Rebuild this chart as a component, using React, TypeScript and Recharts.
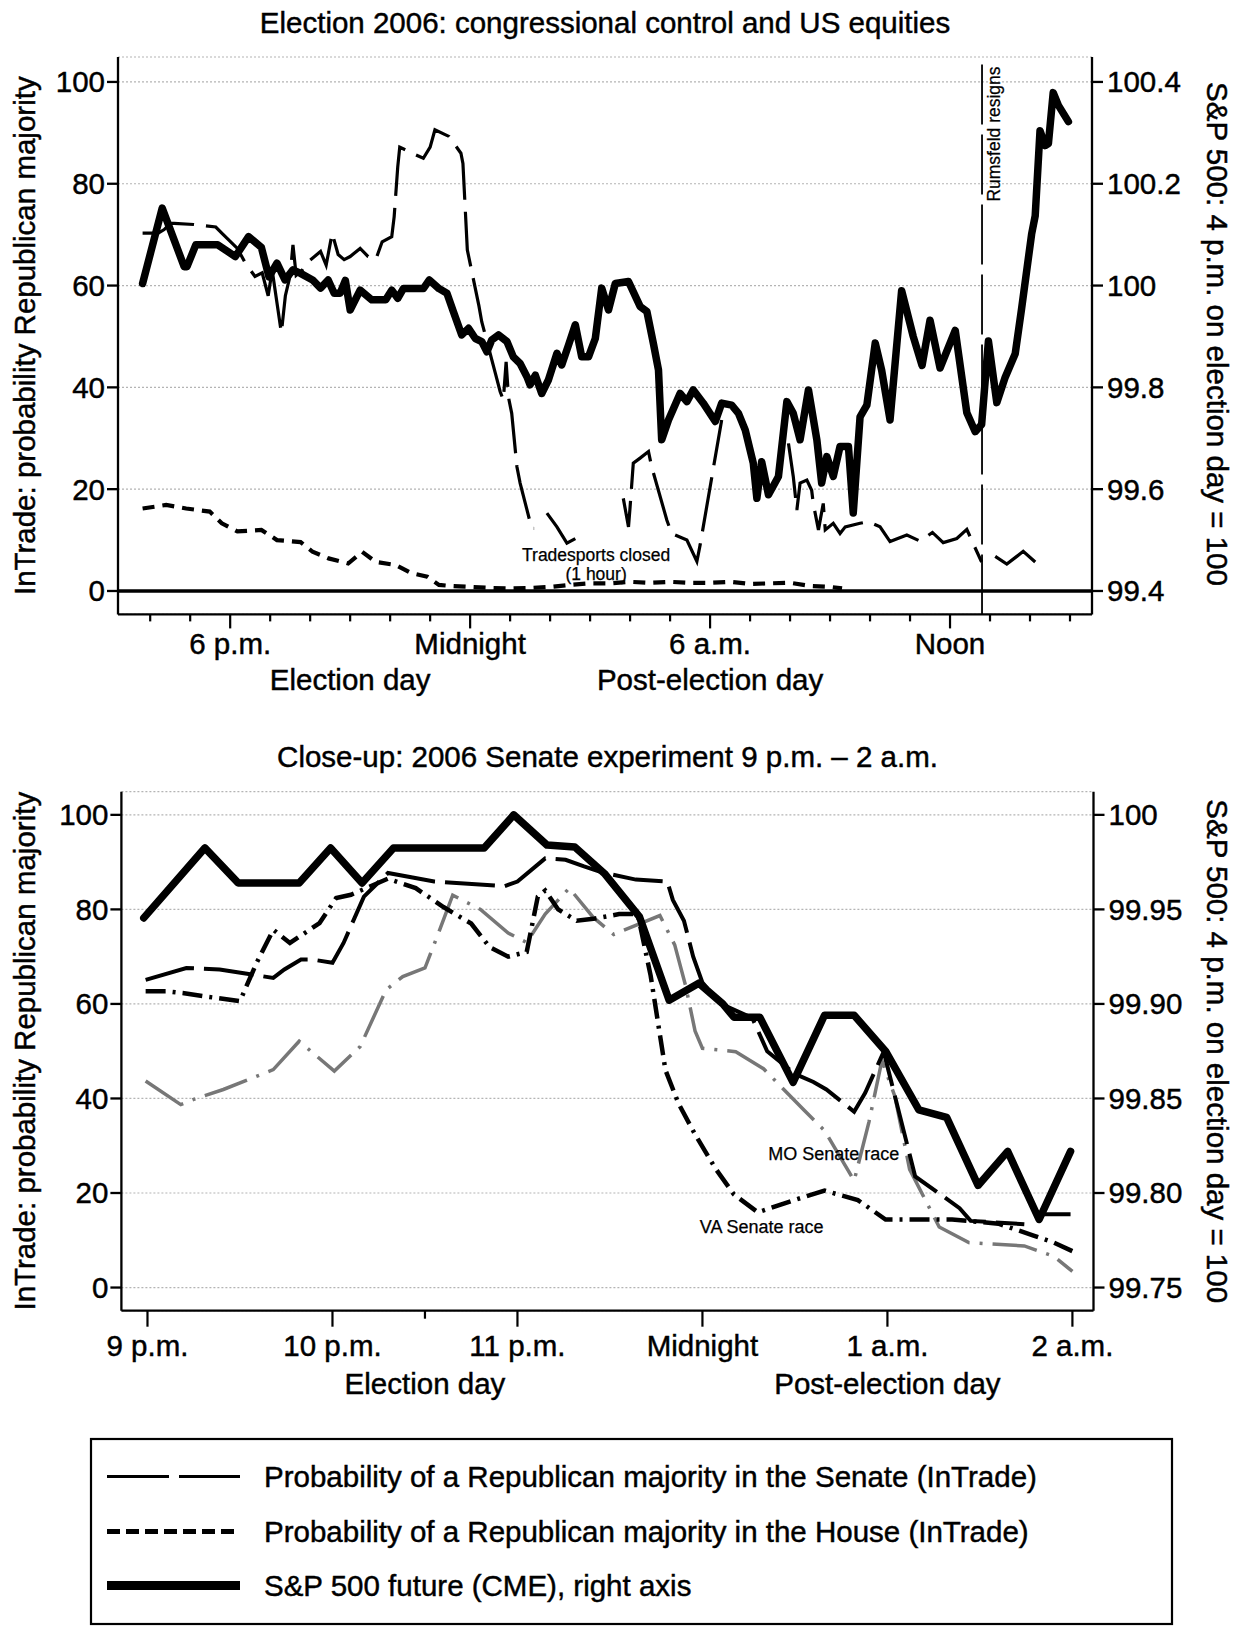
import React from 'react';
import { LineChart, Line, XAxis, YAxis, CartesianGrid, ReferenceLine, ReferenceDot } from 'recharts';

const FONT = "'Liberation Sans', Arial, Helvetica, sans-serif";
const TXT = 29.5;
const TXT_STROKE = 0.45;

// ---------- Full session: hours of the day, 24 = midnight, 36 = noon next day ----------
const sessionTickHours = [16, 17, 18, 19, 20, 21, 22, 23, 24, 25, 26, 27, 28, 29, 30, 31, 32, 33, 34, 35, 36, 37, 38, 39];
const sessionMajorHours = [18, 24, 30, 36];
const sessionMajorLabels = ['6 p.m.', 'Midnight', '6 a.m.', 'Noon'];
const sessionDayHours = [21, 30];
const sessionDayNames = ['Election day', 'Post-election day'];

// ---------- Close-up 9 p.m. - 2 a.m. ----------
const closeTickHours = [21, 22, 22.5, 23, 24, 25, 26];
const closeMajorHours = [21, 22, 23, 24, 25, 26];
const closeMajorLabels = ['9 p.m.', '10 p.m.', '11 p.m.', 'Midnight', '1 a.m.', '2 a.m.'];
const closeDayHours = [22.5, 25];
const closeDayNames = ['Election day', 'Post-election day'];

const probTicks = [0, 20, 40, 60, 80, 100];
const sessionSpTicks = [99.4, 99.6, 99.8, 100, 100.2, 100.4];
const sessionSpTickLabels = ['99.4', '99.6', '99.8', '100', '100.2', '100.4'];
const closeSpTicks = [99.75, 99.8, 99.85, 99.9, 99.95, 100];
const closeSpTickLabels = ['99.75', '99.80', '99.85', '99.90', '99.95', '100'];

// S&P 500 future, index with 4 p.m. on election day = 100
const sessionSp: [number, number][] = [
  [15.81, 100.004], [16.3, 100.152], [16.85, 100.037], [16.92, 100.037], [17.14, 100.08], [17.69, 100.08],
  [18.13, 100.057], [18.46, 100.096], [18.78, 100.075], [18.97, 100.017], [19.17, 100.044], [19.37, 100.011],
  [19.57, 100.031], [19.76, 100.024], [20.06, 100.011], [20.26, 99.995], [20.45, 100.011], [20.6, 99.985],
  [20.75, 99.985], [20.88, 100.01], [21.0, 99.952], [21.25, 99.991], [21.54, 99.972], [21.89, 99.972],
  [22.04, 99.991], [22.19, 99.975], [22.33, 99.994], [22.83, 99.994], [22.98, 100.011], [23.22, 99.994],
  [23.42, 99.985], [23.58, 99.949], [23.79, 99.903], [23.96, 99.916], [24.13, 99.896], [24.29, 99.89],
  [24.42, 99.87], [24.54, 99.893], [24.71, 99.903], [24.92, 99.89], [25.08, 99.86], [25.25, 99.847],
  [25.42, 99.821], [25.5, 99.805], [25.63, 99.824], [25.79, 99.788], [25.96, 99.815], [26.17, 99.867],
  [26.29, 99.844], [26.46, 99.883], [26.63, 99.923], [26.79, 99.86], [26.96, 99.86], [27.13, 99.896],
  [27.29, 99.995], [27.46, 99.952], [27.63, 100.004], [27.96, 100.008], [28.25, 99.959], [28.42, 99.949],
  [28.58, 99.887], [28.71, 99.834], [28.79, 99.697], [28.96, 99.736], [29.25, 99.788], [29.42, 99.772],
  [29.58, 99.795], [29.83, 99.769], [30.13, 99.733], [30.29, 99.769], [30.54, 99.765], [30.71, 99.749],
  [30.88, 99.716], [31.08, 99.651], [31.17, 99.582], [31.29, 99.654], [31.46, 99.589], [31.71, 99.625],
  [31.92, 99.772], [32.08, 99.749], [32.25, 99.697], [32.46, 99.795], [32.67, 99.697], [32.79, 99.612],
  [32.92, 99.664], [33.08, 99.625], [33.25, 99.684], [33.46, 99.684], [33.58, 99.553], [33.75, 99.742],
  [33.92, 99.765], [34.13, 99.887], [34.29, 99.834], [34.5, 99.736], [34.79, 99.99], [35.08, 99.9],
  [35.3, 99.843], [35.5, 99.932], [35.75, 99.838], [36.13, 99.912], [36.42, 99.75], [36.63, 99.713],
  [36.79, 99.727], [36.96, 99.891], [37.17, 99.77], [37.38, 99.82], [37.63, 99.866], [37.79, 99.955],
  [38.04, 100.101], [38.13, 100.137], [38.25, 100.304], [38.38, 100.275], [38.46, 100.279], [38.58, 100.379],
  [38.71, 100.354], [38.96, 100.322],
];

// InTrade: probability of a Republican Senate majority (null = no trades)
const sessionSenate: [number, number | null][] = [
  [15.81, 70.3], [16.2, 70.3], [16.35, 71], [16.5, 72.2], [16.6, 72.2], [17.09, 72], [17.64, 71.5], [17.79, 70.3],
  [18.18, 67.3], [18.38, 64.4], [18.62, 61.8], [18.8, 62.5], [18.95, 58], [19.05, 63], [19.2, 55], [19.28, 50.7],
  [19.38, 58], [19.5, 62], [19.57, 68], [19.65, 62], [19.8, 63], [19.91, 64.4], [20.26, 66.7], [20.4, 64],
  [20.55, 70.3], [20.7, 66.1], [20.85, 65.1], [21.0, 65.7], [21.25, 67.3], [21.45, 65.7], [21.64, 65.1],
  [21.8, 68.6], [22.04, 69.6], [22.1, 73.5], [22.19, 83.3], [22.24, 87.2], [22.55, 86], [22.83, 85], [23.0, 87.2],
  [23.12, 90.6], [23.47, 89.3], [23.77, 86], [23.82, 84], [23.93, 67], [24.22, 56], [24.29, 52.9], [24.63, 42.8],
  [24.75, 39.2], [24.83, 37.5], [24.9, 45], [24.96, 38], [25.04, 34.9], [25.17, 24.4], [25.25, 21.2],
  [25.54, 12.3], [25.6, 12.3], [25.75, null], [25.92, 15.3], [26.17, 12.6], [26.42, 9.4], [26.63, 10.3],
  [27.2, null], [27.83, 18.2], [27.96, 12.6], [28.0, 16.5], [28.08, 25.1], [28.25, 26.1], [28.46, 27.4],
  [28.54, 24.4], [28.92, 13.9], [29.04, 11.3], [29.42, 10], [29.67, 5.8], [29.75, 9], [30.29, 33.6],
  [31.0, null], [31.96, 29], [32.08, 22.5], [32.17, 15.9], [32.25, 21.2], [32.42, 21.8], [32.54, 19.8],
  [32.58, 17.2], [32.71, 12], [32.83, 17.2], [32.88, 12], [33.08, 13.3], [33.25, 11.3], [33.38, 12.6],
  [33.75, 13.3], [33.96, 13.6], [34.25, 12.6], [34.5, 9.7], [34.92, 11], [35.25, 9.8], [35.56, 11.5],
  [35.83, 9.5], [36.17, 10.3], [36.42, 12.1], [36.58, 9.3], [36.79, 5.7], [36.95, null], [37.13, 6.8],
  [37.42, 5.3], [37.67, 6.8], [37.83, 7.8], [38.13, 5.7],
];

// InTrade: probability of a Republican House majority
const sessionHouse: [number, number][] = [
  [15.81, 16.2], [16.4, 16.9], [16.9, 16.2], [17.49, 15.6], [17.79, 13.3], [18.18, 11.7], [18.78, 12],
  [19.17, 10], [19.76, 9.6], [20.06, 7.7], [20.46, 6.4], [20.95, 5.4], [21.3, 7.7], [21.64, 5.7], [22.14, 5.1],
  [22.53, 3.5], [22.93, 2.8], [23.22, 1.2], [23.5, 1.0], [24.0, 0.8], [24.5, 0.6], [25.0, 0.5], [25.5, 0.6],
  [26.0, 0.8], [26.5, 1.2], [27.0, 1.5], [27.5, 1.5], [28.0, 1.8], [28.5, 1.6], [29.0, 1.8], [29.5, 1.6],
  [30.0, 1.6], [30.5, 1.8], [31.0, 1.4], [31.5, 1.5], [32.0, 1.6], [32.5, 1.0], [33.0, 0.8], [33.3, 0.5],
];

const rumsfeldHour = 36.8;

// Close-up series
const closeSp: [number, number][] = [
  [20.98, 99.9455], [21.31, 99.9825], [21.49, 99.964], [21.82, 99.964], [21.99, 99.9825], [22.16, 99.964],
  [22.33, 99.9825], [22.82, 99.9825], [22.98, 100.0], [23.16, 99.984], [23.31, 99.983], [23.47, 99.969],
  [23.66, 99.946], [23.82, 99.902], [23.98, 99.911], [24.11, 99.9], [24.17, 99.893], [24.31, 99.893],
  [24.49, 99.8585], [24.66, 99.894], [24.82, 99.894], [24.99, 99.875], [25.17, 99.844], [25.32, 99.84],
  [25.49, 99.804], [25.65, 99.822], [25.82, 99.786], [25.99, 99.822],
];

const closeSenate: [number, number | null][] = [
  [20.99, 65.1], [21.21, 67.6], [21.39, 67.3], [21.68, 65.5], [21.74, 67.3], [21.83, 69.4], [21.89, 69.4],
  [22.0, 68.7], [22.06, 72.9], [22.17, 82.7], [22.3, 87.7], [22.55, 85.9], [22.93, 84.9], [23.0, 85.9],
  [23.15, 90.8], [23.26, 90.5], [23.36, 89.1], [23.46, 87.8], [23.64, 86.3], [23.81, 85.9], [23.84, 82],
  [23.9, 77.6], [23.95, 70], [24.0, 64.5], [24.1, 60], [24.27, 57], [24.35, 50], [24.5, 45.2], [24.6, 43.5],
  [24.67, 41.9], [24.82, 37.2], [24.88, 41.2], [24.98, 49.9], [25.15, 23.5], [25.39, 16.8], [25.45, 14.1],
  [25.74, 13.4], [25.8, null], [25.81, 15.5], [25.99, 15.5],
];

const closeVA: [number, number][] = [
  [20.99, 62.7], [21.1, 62.7], [21.19, 62.3], [21.31, 61.6], [21.5, 60.6], [21.59, 68.7], [21.68, 75.7],
  [21.77, 72.9], [21.93, 77.1], [22.02, 82.4], [22.1, 83.1], [22.3, 86.5], [22.45, 84.5], [22.6, 80.5],
  [22.75, 77], [22.85, 72], [22.95, 70], [23.05, 71], [23.11, 82.7], [23.15, 84], [23.22, 80], [23.32, 77.6],
  [23.41, 78], [23.55, 79], [23.65, 79], [23.72, 66], [23.8, 46], [23.87, 39], [23.96, 32.4], [24.07, 25.2],
  [24.17, 19.7], [24.3, 15.9], [24.48, 18.3], [24.66, 20.5], [24.84, 18.5], [24.99, 14.4], [25.35, 14.4],
  [25.6, 13.5], [25.79, 11], [25.9, 9.5], [26.0, 7.7],
];

const closeMO: [number, number][] = [
  [20.99, 43.7], [21.18, 38.7], [21.25, 39.8], [21.41, 41.9], [21.68, 46.1], [21.82, 52.1], [22.01, 45.8],
  [22.15, 51], [22.29, 63], [22.38, 65.8], [22.5, 67.6], [22.58, 75.7], [22.65, 83], [22.8, 80], [22.95, 75],
  [23.05, 73], [23.15, 79], [23.28, 84.5], [23.41, 78.3], [23.52, 74.7], [23.77, 78.7], [23.85, 72.5],
  [23.91, 63.7], [23.96, 54.3], [24.0, 50.6], [24.18, 49.9], [24.33, 46.3], [24.55, 37.5], [24.66, 33.2],
  [24.82, 22.6], [24.9, 35], [24.97, 48], [25.04, 40.5], [25.12, 25], [25.28, 12.8], [25.44, 9.5],
  [25.74, 8.8], [25.9, 6.6], [26.0, 3.4],
];

const legendItems = [
  'Probability of a Republican majority in the Senate (InTrade)',
  'Probability of a Republican majority in the House (InTrade)',
  'S&P 500 future (CME), right axis',
];

const toRows = (pts: [number, number | null][]) => pts.map(([h, v]) => ({ h, v }));

const labelFor = (ticks: number[], labels: string[]) => (val: number) => {
  const i = ticks.findIndex((t) => Math.abs(t - val) < 1e-6);
  return i >= 0 ? labels[i] : '';
};

function makeTimeTick(
  majorHours: number[], majorLabels: string[], dayHours: number[], dayNames: string[],
  majorLen: number, minorLen: number, labelDy: number, dayDy: number,
) {
  return function TimeTick(props: any) {
    const { x, y, payload } = props;
    const h = payload.value;
    const mi = majorHours.findIndex((m) => Math.abs(m - h) < 1e-6);
    const di = dayHours.findIndex((m) => Math.abs(m - h) < 1e-6);
    const textProps = { textAnchor: 'middle' as const, fontSize: TXT, fontFamily: FONT, fill: '#000', stroke: '#000', strokeWidth: TXT_STROKE };
    return (
      <g>
        <line x1={x} y1={y} x2={x} y2={y + (mi >= 0 ? majorLen : minorLen)} stroke="#000" strokeWidth={2.2} />
        {mi >= 0 && <text x={x} y={y + labelDy} {...textProps}>{majorLabels[mi]}</text>}
        {di >= 0 && <text x={x} y={y + dayDy} {...textProps}>{dayNames[di]}</text>}
      </g>
    );
  };
}

const SessionTick = makeTimeTick(sessionMajorHours, sessionMajorLabels, sessionDayHours, sessionDayNames, 14, 7, 40, 76);
const CloseTick = makeTimeTick(closeMajorHours, closeMajorLabels, closeDayHours, closeDayNames, 16, 8, 45, 83);

const RumsfeldLabel = (props: any) => {
  const vb = props.viewBox || {};
  const x = (vb.x ?? 0) + 18;
  const y = (vb.y ?? 0) + 77;
  return (
    <text x={x} y={y} transform={`rotate(-90, ${x}, ${y})`} textAnchor="middle" fontSize={17.5} fontFamily={FONT}
      fill="#000" stroke="#000" strokeWidth={0.25}>
      Rumsfeld resigns
    </text>
  );
};

const TwoLineNote = (lines: string[], size: number) => (props: any) => {
  const vb = props.viewBox || {};
  const cx = (vb.x ?? 0) + (vb.width ?? 0) / 2;
  const cy = (vb.y ?? 0) + (vb.height ?? 0) / 2;
  return (
    <g>
      {lines.map((t, i) => (
        <text key={t} x={cx} y={cy + (i - (lines.length - 1) / 2) * 19 + 6} textAnchor="middle" fontSize={size}
          fontFamily={FONT} fill="#000" stroke="#000" strokeWidth={0.25}>
          {t}
        </text>
      ))}
    </g>
  );
};

const TradesportsNote = TwoLineNote(['Tradesports closed', '(1 hour)'], 17.5);
const MoNote = TwoLineNote(['MO Senate race'], 18);
const VaNote = TwoLineNote(['VA Senate race'], 18);

const axisStroke = { stroke: '#000', strokeWidth: 2.3 };
const tickText = { fontSize: TXT, fill: '#000', fontFamily: FONT, stroke: '#000', strokeWidth: TXT_STROKE };

export default function App() {
  return (
    <div style={{ position: 'absolute', left: 0, top: 0, width: 1245, height: 1628, background: '#fff' }}>
      {/* Full session chart */}
      <div style={{ position: 'absolute', left: 0, top: 0 }}>
        <LineChart width={1245} height={720} margin={{ top: 57, right: 53, bottom: 45.6, left: 18 }}>
          <CartesianGrid yAxisId="left" vertical={false} stroke="#b4b4b4" strokeDasharray="2 2" strokeWidth={1.2} />
          <XAxis
            type="number" dataKey="h" domain={[15.195, 39.55]} ticks={sessionTickHours} interval={0}
            allowDataOverflow tickLine={false} tickSize={0} tickMargin={0} height={60}
            axisLine={axisStroke} tick={(p: any) => <SessionTick {...p} />}
          />
          <YAxis
            yAxisId="left" orientation="left" type="number" domain={[-4.6, 104.9]} ticks={probTicks} interval={0}
            allowDataOverflow width={100} tickSize={11} tickMargin={2} axisLine={axisStroke}
            tickLine={axisStroke} tick={tickText}
          />
          <YAxis
            yAxisId="right" orientation="right" type="number" domain={[99.354, 100.449]} ticks={sessionSpTicks}
            interval={0} allowDataOverflow width={100} tickSize={11} tickMargin={4} axisLine={axisStroke}
            tickLine={axisStroke} tick={tickText} tickFormatter={labelFor(sessionSpTicks, sessionSpTickLabels)}
          />
          <ReferenceLine yAxisId="left" y={0} stroke="#000" strokeWidth={3.5} />
          <ReferenceLine
            yAxisId="left" x={rumsfeldHour} stroke="#000" strokeWidth={1.8} strokeDasharray="60 10"
            label={<RumsfeldLabel />}
          />
          <ReferenceDot yAxisId="left" x={27.15} y={5.2} r={0} stroke="none" fill="none" label={<TradesportsNote />} />
          <Line
            yAxisId="left" data={toRows(sessionHouse)} dataKey="v" type="linear" stroke="#000" strokeWidth={4.2}
            strokeDasharray="12 8" dot={false} activeDot={false} isAnimationActive={false}
          />
          <Line
            yAxisId="left" data={toRows(sessionSenate)} dataKey="v" type="linear" stroke="#000" strokeWidth={3.2}
            strokeDasharray="55 12" dot={false} activeDot={false} connectNulls={false} isAnimationActive={false}
          />
          <Line
            yAxisId="right" data={toRows(sessionSp)} dataKey="v" type="linear" stroke="#000" strokeWidth={7.5}
            strokeLinejoin="round" strokeLinecap="round" dot={false} activeDot={false} isAnimationActive={false}
          />
        </LineChart>
      </div>

      {/* Close-up chart */}
      <div style={{ position: 'absolute', left: 0, top: 720 }}>
        <LineChart width={1245} height={700} margin={{ top: 71.7, right: 51.5, bottom: 49.3, left: 21.4 }}>
          <CartesianGrid yAxisId="left" vertical={false} stroke="#b4b4b4" strokeDasharray="2 2" strokeWidth={1.2} />
          <XAxis
            type="number" dataKey="h" domain={[20.859, 26.114]} ticks={closeTickHours} interval={0}
            allowDataOverflow tickLine={false} tickSize={0} tickMargin={0} height={60}
            axisLine={axisStroke} tick={(p: any) => <CloseTick {...p} />}
          />
          <YAxis
            yAxisId="left" orientation="left" type="number" domain={[-4.9, 104.9]} ticks={probTicks} interval={0}
            allowDataOverflow width={100} tickSize={11} tickMargin={2} axisLine={axisStroke}
            tickLine={axisStroke} tick={tickText}
          />
          <YAxis
            yAxisId="right" orientation="right" type="number" domain={[99.73775, 100.01225]} ticks={closeSpTicks}
            interval={0} allowDataOverflow width={100} tickSize={11} tickMargin={4} axisLine={axisStroke}
            tickLine={axisStroke} tick={tickText} tickFormatter={labelFor(closeSpTicks, closeSpTickLabels)}
          />
          <ReferenceDot yAxisId="left" x={24.71} y={28.3} r={0} stroke="none" fill="none" label={<MoNote />} />
          <ReferenceDot yAxisId="left" x={24.32} y={12.8} r={0} stroke="none" fill="none" label={<VaNote />} />
          <Line
            yAxisId="left" data={toRows(closeMO)} dataKey="v" type="linear" stroke="#777" strokeWidth={3.5}
            strokeDasharray="45 10 3 10" dot={false} activeDot={false} isAnimationActive={false}
          />
          <Line
            yAxisId="left" data={toRows(closeVA)} dataKey="v" type="linear" stroke="#000" strokeWidth={4.5}
            strokeDasharray="20 7 3 7" dot={false} activeDot={false} isAnimationActive={false}
          />
          <Line
            yAxisId="left" data={toRows(closeSenate)} dataKey="v" type="linear" stroke="#000" strokeWidth={4}
            strokeDasharray="50 10" dot={false} activeDot={false} connectNulls={false} isAnimationActive={false}
          />
          <Line
            yAxisId="right" data={toRows(closeSp)} dataKey="v" type="linear" stroke="#000" strokeWidth={7.5}
            strokeLinejoin="round" strokeLinecap="round" dot={false} activeDot={false} isAnimationActive={false}
          />
        </LineChart>
      </div>

      {/* Titles, axis titles and legend */}
      <svg width={1245} height={1628} style={{ position: 'absolute', left: 0, top: 0, pointerEvents: 'none' }}>
        <g fontFamily={FONT} fill="#000" fontSize={TXT}>
          <g stroke="#000" strokeWidth={TXT_STROKE}>
            <text x={605} y={33} textAnchor="middle">Election 2006: congressional control and US equities</text>
            <text x={607.5} y={767} textAnchor="middle">Close-up: 2006 Senate experiment 9 p.m. – 2 a.m.</text>

            <text x={35} y={335.7} textAnchor="middle" transform="rotate(-90, 35, 335.7)">InTrade: probability Republican majority</text>
            <text x={35} y={1051.2} textAnchor="middle" transform="rotate(-90, 35, 1051.2)">InTrade: probability Republican majority</text>
            <text x={1207} y={334} textAnchor="middle" transform="rotate(90, 1207, 334)">S&amp;P 500: 4 p.m. on election day = 100</text>
            <text x={1207} y={1051.2} textAnchor="middle" transform="rotate(90, 1207, 1051.2)">S&amp;P 500: 4 p.m. on election day = 100</text>

            <text x={264} y={1487}>{legendItems[0]}</text>
            <text x={264} y={1542}>{legendItems[1]}</text>
            <text x={264} y={1596}>{legendItems[2]}</text>
          </g>

          <rect x={91} y={1439} width={1081} height={185} fill="none" stroke="#000" strokeWidth={2.2} />
          <line x1={107} y1={1476.5} x2={240} y2={1476.5} stroke="#000" strokeWidth={3.2} strokeDasharray="62 10" />
          <line x1={107} y1={1531.5} x2={240} y2={1531.5} stroke="#000" strokeWidth={5} strokeDasharray="13 6" />
          <line x1={107} y1={1585.5} x2={240} y2={1585.5} stroke="#000" strokeWidth={9} />
        </g>
      </svg>
    </div>
  );
}
